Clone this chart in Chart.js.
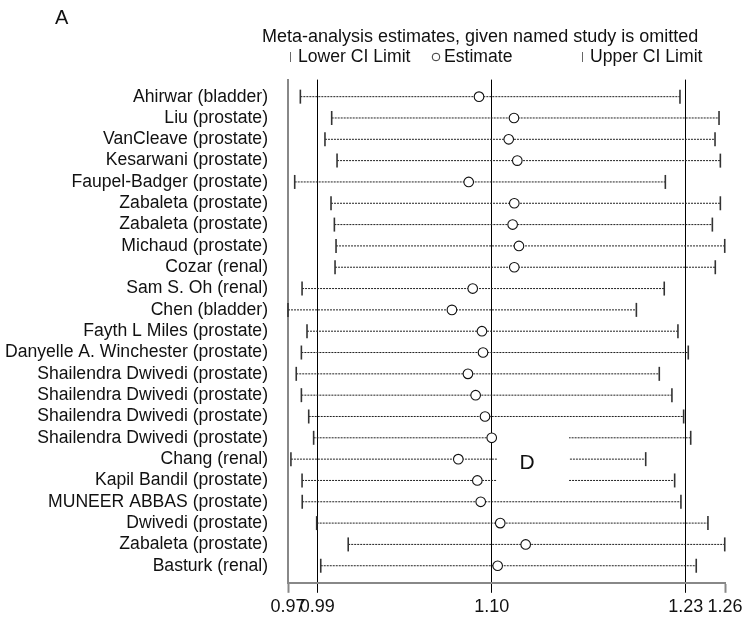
<!DOCTYPE html>
<html>
<head>
<meta charset="utf-8">
<script src="https://cdn.jsdelivr.net/npm/chart.js@4.4.1/dist/chart.umd.min.js"></script>
<style>
  html, body { margin: 0; padding: 0; background: #ffffff; }
  #wrap { width: 746px; height: 620px; }
</style>
</head>
<body>
<div id="wrap"><canvas id="c" width="746" height="620"></canvas></div>
<script>
// ---------------- DATA ----------------
const studies = [
  "Ahirwar (bladder)",
  "Liu (prostate)",
  "VanCleave (prostate)",
  "Kesarwani (prostate)",
  "Faupel-Badger (prostate)",
  "Zabaleta (prostate)",
  "Zabaleta (prostate)",
  "Michaud (prostate)",
  "Cozar (renal)",
  "Sam S. Oh (renal)",
  "Chen (bladder)",
  "Fayth L Miles (prostate)",
  "Danyelle A. Winchester (prostate)",
  "Shailendra Dwivedi (prostate)",
  "Shailendra Dwivedi (prostate)",
  "Shailendra Dwivedi (prostate)",
  "Shailendra Dwivedi (prostate)",
  "Chang (renal)",
  "Kapil Bandil (prostate)",
  "MUNEER ABBAS (prostate)",
  "Dwivedi (prostate)",
  "Zabaleta (prostate)",
  "Basturk (renal)"
];
const lowerCI = [0.9772, 0.9957, 0.9917, 0.9989, 0.9739, 0.9953, 0.9973, 0.9983, 0.9977, 0.9782,
                 0.9700, 0.9811, 0.9778, 0.9748, 0.9778, 0.9821, 0.9850, 0.9717, 0.9782, 0.9783,
                 0.9868, 1.0056, 0.9892];
const estimate = [1.0875, 1.1105, 1.1070, 1.1127, 1.0808, 1.1107, 1.1096, 1.1138, 1.1107, 1.0834,
                  1.0700, 1.0894, 1.0901, 1.0803, 1.0853, 1.0914, 1.0958, 1.0741, 1.0864, 1.0886,
                  1.1014, 1.1183, 1.0997];
const upperCI = [1.2265, 1.2555, 1.2525, 1.2565, 1.2158, 1.2565, 1.2505, 1.2598, 1.2527, 1.2150,
                 1.1949, 1.2250, 1.2326, 1.2114, 1.2206, 1.2292, 1.2344, 1.2016, 1.2226, 1.2272,
                 1.2472, 1.2598, 1.2385];
// x-axis ticks: axis limits, overall CI limits and overall estimate
const tickValues = [0.97, 0.9872, 1.0958, 1.2307, 1.26];
const tickLabels = ["0.97", "0.99", "1.10", "1.23", "1.26"];
const refTickIndex = [1, 2, 3];   // ticks drawn as full reference lines

const titleText = "Meta-analysis estimates, given named study is omitted";
const legendLabels = ["Lower CI Limit", "Estimate", "Upper CI Limit"];
const panelLetter = "A";
const overlayLetter = "D";

// ---------------- BUILD ----------------
const FONT = "'Liberation Sans', Arial, Helvetica, sans-serif";
const rows = studies.map((s, i) => i + 1);

const lineData = [];
rows.forEach((r, i) => {
  lineData.push({x: lowerCI[i], y: r});
  lineData.push({x: upperCI[i], y: r});
  lineData.push({x: NaN, y: NaN});
});

const overlayPlugin = {
  id: 'overlay',
  afterDraw(chart) {
    const ctx = chart.ctx;
    ctx.save();
    // panel letter
    ctx.fillStyle = '#111';
    ctx.font = '20px ' + FONT;
    ctx.textAlign = 'left';
    ctx.textBaseline = 'middle';
    ctx.fillText(panelLetter, 55, 18);
    // title
    ctx.font = '18px ' + FONT;
    ctx.fillText(titleText, 262, 37);
    // legend
    const ly = 57;
    ctx.font = '17.6px ' + FONT;
    ctx.strokeStyle = '#666';
    ctx.lineWidth = 1;
    ctx.beginPath();
    ctx.moveTo(290.5, ly - 5); ctx.lineTo(290.5, ly + 5);
    ctx.moveTo(582.5, ly - 5); ctx.lineTo(582.5, ly + 5);
    ctx.stroke();
    ctx.strokeStyle = '#333';
    ctx.beginPath();
    ctx.arc(436, ly, 3.8, 0, Math.PI * 2);
    ctx.stroke();
    ctx.fillText(legendLabels[0], 298, ly);
    ctx.fillText(legendLabels[1], 444, ly);
    ctx.fillText(legendLabels[2], 590, ly);
    // white box with "D"
    ctx.fillStyle = '#ffffff';
    ctx.fillRect(497, 427, 72, 64);
    ctx.fillStyle = '#111';
    ctx.font = '21px ' + FONT;
    ctx.textAlign = 'center';
    ctx.fillText(overlayLetter, 527, 463);
    ctx.restore();
  }
};

new Chart(document.getElementById('c'), {
  type: 'scatter',
  data: {
    datasets: [
      {
        label: 'Estimate',
        data: rows.map((r, i) => ({x: estimate[i], y: r})),
        pointStyle: 'circle',
        pointRadius: 4.8,
        pointHoverRadius: 4.8,
        borderColor: '#111',
        backgroundColor: '#ffffff',
        pointBorderWidth: 1.1,
        order: 0,
        clip: false
      },
      {
        label: 'Lower CI Limit',
        data: rows.map((r, i) => ({x: lowerCI[i], y: r})),
        pointStyle: 'line',
        rotation: 90,
        pointRadius: 7,
        pointHoverRadius: 7,
        borderColor: '#333',
        pointBorderWidth: 1.6,
        order: 1,
        clip: false
      },
      {
        label: 'Upper CI Limit',
        data: rows.map((r, i) => ({x: upperCI[i], y: r})),
        pointStyle: 'line',
        rotation: 90,
        pointRadius: 7,
        pointHoverRadius: 7,
        borderColor: '#333',
        pointBorderWidth: 1.6,
        order: 1,
        clip: false
      },
      {
        type: 'line',
        label: 'CI',
        data: lineData,
        showLine: true,
        spanGaps: false,
        borderColor: '#222',
        borderWidth: 1,
        borderDash: [2, 1],
        pointRadius: 0,
        pointHoverRadius: 0,
        fill: false,
        order: 2,
        clip: false
      }
    ]
  },
  options: {
    responsive: false,
    animation: false,
    devicePixelRatio: 1,
    events: [],
    layout: { padding: { top: 79.6, right: 21, left: 0, bottom: 0 } },
    plugins: {
      legend: { display: false },
      title: { display: false },
      tooltip: { enabled: false }
    },
    scales: {
      x: {
        type: 'logarithmic',
        position: 'bottom',
        min: 0.97,
        max: 1.26,
        bounds: 'data',
        z: 1,
        afterBuildTicks(scale) {
          scale.ticks = tickValues.map(v => ({value: v}));
        },
        afterFit(scale) { scale.height = 37.2; },
        ticks: {
          autoSkip: false,
          maxRotation: 0,
          minRotation: 0,
          padding: 3,
          color: '#111',
          font: { family: FONT, size: 18 },
          callback: (v, i) => tickLabels[i]
        },
        grid: {
          display: true,
          drawOnChartArea: true,
          drawTicks: true,
          tickLength: 10,
          lineWidth: 1,
          color: (ctx) => refTickIndex.includes(ctx.index) ? '#000' : 'rgba(0,0,0,0)',
          tickColor: (ctx) => refTickIndex.includes(ctx.index) ? '#000' : '#888',
          tickWidth: (ctx) => refTickIndex.includes(ctx.index) ? 1 : 2
        },
        border: { display: true, color: '#888', width: 2 }
      },
      y: {
        type: 'linear',
        min: 0.2,
        max: 23.8,
        bounds: 'data',
        reverse: true,
        afterBuildTicks(scale) {
          scale.ticks = rows.map(r => ({value: r}));
        },
        afterFit(scale) { scale.width = 288; },
        ticks: {
          autoSkip: false,
          padding: 12,
          color: '#111',
          font: { family: FONT, size: 17.6 },
          callback: (v, i) => studies[i]
        },
        grid: { display: false },
        border: { display: true, color: '#888', width: 2 }
      }
    }
  },
  plugins: [overlayPlugin]
});
</script>
</body>
</html>
